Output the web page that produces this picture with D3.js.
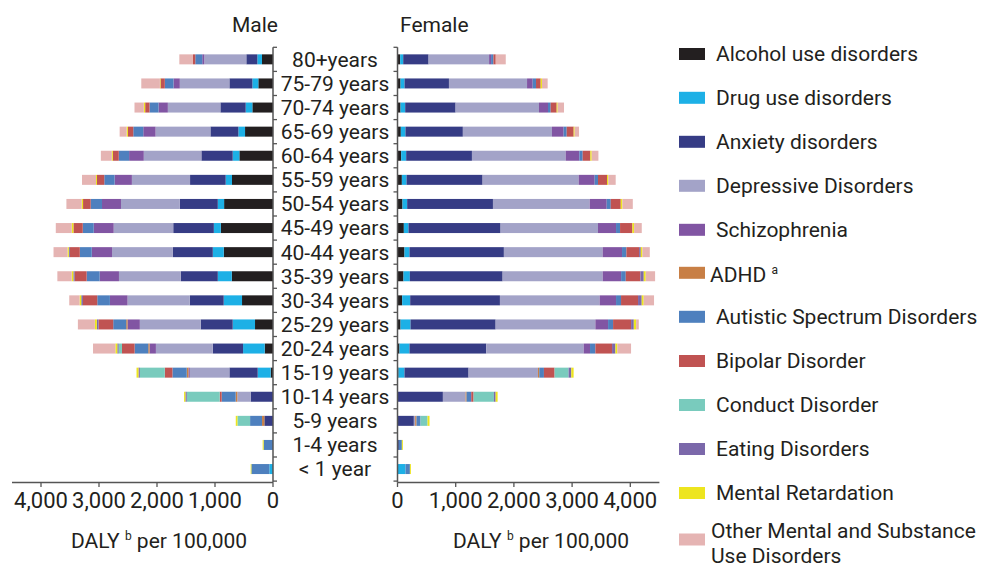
<!DOCTYPE html>
<html><head><meta charset="utf-8">
<script src="https://cdn.jsdelivr.net/npm/d3@7"></script>
<style>
body{margin:0;background:#fff;}
svg{display:block;font-family:Roboto,"Noto Sans",sans-serif;}
</style></head>
<body><svg id="c" width="990" height="567"></svg>
<script>
const categories = ["80+years","75-79 years","70-74 years","65-69 years","60-64 years","55-59 years","50-54 years","45-49 years","40-44 years","35-39 years","30-34 years","25-29 years","20-24 years","15-19 years","10-14 years","5-9 years","1-4 years","< 1 year"];
const seriesNames = ["Alcohol use disorders","Drug use disorders","Anxiety disorders","Depressive Disorders","Schizophrenia","ADHD","Autistic Spectrum Disorders","Bipolar Disorder","Conduct Disorder","Eating Disorders","Mental Retardation","Other Mental and Substance Use Disorders"];
const colors = ["#231f20","#1db0e6","#363c85","#a3a3c8","#8155a3","#c87f45","#4e80be","#c05352","#79cbbd","#7b68aa","#ede51f","#e5b4b3"];
const xTicks = [0,1000,2000,3000,4000];

// rows: categories; columns: seriesNames order
const male = [
 [190,80,190,725,35,0,120,40,0,0,0,235],
 [253,103,396,855,109,0,149,75,0,0,10,321],
 [356,115,436,906,161,0,155,75,0,0,23,161],
 [482,115,482,946,212,0,172,92,0,0,23,120],
 [580,115,540,993,253,0,178,103,0,0,17,189],
 [707,109,614,1003,298,0,178,126,0,0,17,241],
 [843,109,654,1015,327,0,195,132,0,0,23,264],
 [900,120,700,1027,344,0,189,161,0,0,29,275],
 [849,189,688,1049,350,0,206,172,0,17,23,241],
 [711,241,637,1067,333,0,224,206,0,23,29,247],
 [534,316,585,1073,304,0,218,247,0,29,29,178],
 [310,385,551,1050,212,23,224,253,0,29,34,293],
 [143,373,522,981,109,23,235,218,57,23,34,385],
 [40,224,488,683,23,29,247,132,430,23,34,0],
 [0,0,385,230,0,29,241,34,568,23,23,0],
 [0,0,149,0,0,40,206,0,218,0,29,0],
 [0,0,0,0,0,0,161,0,0,0,17,0],
 [0,63,0,0,0,0,310,0,0,0,12,0]
];
const female = [
 [46,52,436,1040,34,0,40,40,0,0,0,172],
 [52,69,763,1342,97,0,57,80,0,0,23,97],
 [52,80,866,1433,155,0,46,103,0,0,17,109],
 [57,80,986,1531,201,0,52,120,0,0,17,75],
 [63,86,1130,1611,235,0,57,132,0,0,23,115],
 [75,80,1307,1651,275,0,57,155,0,0,23,126],
 [86,80,1474,1663,292,0,69,172,0,0,29,178],
 [109,80,1582,1674,310,0,69,212,0,0,29,132],
 [120,86,1622,1697,333,0,75,218,0,29,29,126],
 [103,109,1594,1720,316,0,80,252,0,57,34,161],
 [80,138,1542,1714,281,0,86,292,0,63,34,178],
 [52,172,1462,1714,218,0,86,310,0,46,40,46],
 [34,172,1319,1674,109,0,92,287,0,57,34,235],
 [17,103,1101,1192,0,23,80,183,241,46,40,0],
 [0,0,780,390,0,17,80,40,350,29,34,0],
 [0,0,281,23,0,23,69,0,120,0,34,0],
 [0,0,23,0,0,0,52,0,0,0,17,0],
 [0,138,0,0,0,0,75,0,0,0,17,0]
];

const svg = d3.select("#c");
const txt = "#231f20", axisCol = "#555";
const FS = 21;
const y = d3.scaleBand().domain(categories).range([47.3, 481.1]);
const barH = 10;
const xM = d3.scaleLinear().domain([0,4500]).range([273, 12]);
const xF = d3.scaleLinear().domain([0,4500]).range([397.5, 659.4]);

function toRows(arr){
  return arr.map((r,i)=>{const o={cat:categories[i]}; seriesNames.forEach((s,j)=>o[s]=r[j]); return o;});
}
const stack = d3.stack().keys(seriesNames);
function drawPanel(data, x){
  const st = stack(toRows(data));
  const g = svg.append("g");
  st.forEach((layer,k)=>{
    g.selectAll(null).data(layer.filter(d=>d[1]-d[0]>0)).join("rect")
      .attr("x", d=>Math.min(x(d[0]),x(d[1])))
      .attr("width", d=>Math.abs(x(d[1])-x(d[0])))
      .attr("y", d=>y(d.data.cat)+y.bandwidth()/2-barH/2)
      .attr("height", barH)
      .attr("fill", colors[k]);
  });
}
drawPanel(male, xM);
drawPanel(female, xF);

// bottom axes
function bottomAxis(x){
  const g = svg.append("g");
  const r = x.range();
  g.append("line").attr("x1",r[0]).attr("x2",r[1]).attr("y1",482.5).attr("y2",482.5).attr("stroke",axisCol).attr("stroke-width",1.5);
  g.selectAll(null).data(xTicks).join("line")
    .attr("x1",d=>x(d)).attr("x2",d=>x(d)).attr("y1",482.5).attr("y2",487).attr("stroke",axisCol).attr("stroke-width",1.3);
  g.selectAll(null).data(xTicks).join("text")
    .attr("x",d=>x(d)).attr("y",500).attr("dy","0.35em").attr("text-anchor","middle")
    .attr("font-size",FS+1).attr("fill",txt).text(d=>d3.format(",")(d));
}
bottomAxis(xM); bottomAxis(xF);

// vertical axes with inward ticks
const bounds = d3.range(categories.length+1).map(i=>y.range()[0]+i*y.step());
function vAxis(x0, dir){
  const g = svg.append("g");
  g.append("line").attr("x1",x0).attr("x2",x0).attr("y1",bounds[0]).attr("y2",482.5).attr("stroke",axisCol).attr("stroke-width",1.5);
  g.selectAll(null).data(bounds).join("line")
    .attr("x1",x0).attr("x2",x0+dir*4).attr("y1",d=>d).attr("y2",d=>d).attr("stroke",axisCol).attr("stroke-width",1.3);
}
vAxis(xM(0), 1); vAxis(xF(0), -1);

// category labels
svg.append("g").selectAll("text").data(categories).join("text")
  .attr("x",335).attr("y",d=>y(d)+y.bandwidth()/2).attr("dy","0.35em")
  .attr("text-anchor","middle").attr("font-size",FS).attr("fill",txt).text(d=>d);

// titles
svg.append("text").attr("x",255).attr("y",25).attr("dy","0.35em").attr("text-anchor","middle").attr("font-size",FS).attr("fill",txt).text("Male");
svg.append("text").attr("x",400).attr("y",25).attr("dy","0.35em").attr("text-anchor","start").attr("font-size",FS).attr("fill",txt).text("Female");

// x titles
function xTitle(cx){
  const t = svg.append("text").attr("x",cx).attr("y",541).attr("dy","0.35em").attr("text-anchor","middle").attr("font-size",FS).attr("fill",txt);
  t.append("tspan").text("DALY ");
  t.append("tspan").attr("font-size",12).attr("dy",-8).text("b");
  t.append("tspan").attr("dy",8).text(" per 100,000");
}
xTitle(159); xTitle(541);

// legend
const legY = [54,97.8,141.8,185.8,229.8,272.8,316.8,361,405,449,493,539.5];
const lg = svg.append("g");
seriesNames.forEach((s,i)=>{
  lg.append("rect").attr("x",679).attr("y",legY[i]-6).attr("width",26).attr("height",12).attr("fill",colors[i]);
  if(s==="ADHD"){
    const t = lg.append("text").attr("x",710).attr("y",legY[i]+2).attr("dy","0.35em").attr("font-size",FS).attr("fill",txt);
    t.append("tspan").text("ADHD ");
    t.append("tspan").attr("font-size",12).attr("dy",-8).text("a");
  } else if(i===seriesNames.length-1){
    const t = lg.append("text").attr("x",711).attr("font-size",FS).attr("fill",txt);
    t.append("tspan").attr("x",711).attr("y",legY[i]-9).attr("dy","0.35em").text("Other Mental and Substance");
    t.append("tspan").attr("x",711).attr("y",legY[i]+16).attr("dy","0.35em").text("Use Disorders");
  } else {
    lg.append("text").attr("x",716).attr("y",legY[i]).attr("dy","0.35em").attr("font-size",FS).attr("fill",txt).text(s);
  }
});
</script></body></html>
